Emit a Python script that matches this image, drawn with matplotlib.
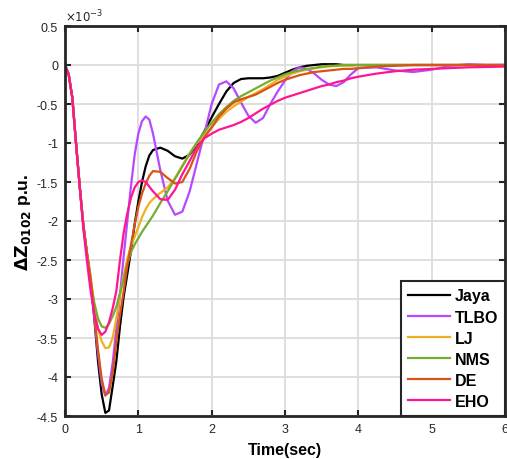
import numpy as np
import matplotlib.pyplot as plt

plt.rcParams['font.family'] = ['Liberation Sans', 'DejaVu Sans']
plt.rcParams['axes.unicode_minus'] = False

# time samples (s): fine steps during the dip, coarser afterwards
t = ([round(0.05 * i, 2) for i in range(25)]
     + [round(1.3 + 0.1 * i, 1) for i in range(28)]
     + [4.25, 4.5, 4.75, 5.0, 5.25, 5.5, 5.75, 6.0])

# deviation values, in units of 1e-3 p.u.
jaya = [0, -0.12, -0.42, -1.0, -1.55, -2.05, -2.42, -2.75, -3.25, -3.8, -4.22, -4.46, -4.43,
        -4.12, -3.8, -3.35, -2.97, -2.68, -2.38, -2.04, -1.75, -1.5, -1.3, -1.16, -1.09,
        -1.06, -1.1, -1.17, -1.2, -1.15, -1.02, -0.85, -0.67, -0.5, -0.34, -0.23, -0.18,
        -0.17, -0.17, -0.17, -0.16, -0.14, -0.1, -0.06, -0.03, -0.01, 0.0, 0.01, 0.01,
        0.01, 0.0, 0.0, 0.0,
        0, 0, 0, 0, 0, 0, 0, 0]
tlbo = [0, -0.12, -0.42, -1.0, -1.55, -2.05, -2.42, -2.75, -3.25, -3.7, -4.08, -4.24, -4.14,
        -3.82, -3.38, -2.95, -2.45, -2.0, -1.55, -1.15, -0.88, -0.72, -0.66, -0.7, -0.88,
        -1.35, -1.74, -1.92, -1.88, -1.62, -1.25, -0.88, -0.5, -0.25, -0.21, -0.3, -0.48,
        -0.65, -0.74, -0.68, -0.5, -0.34, -0.2, -0.08, -0.03, -0.05, -0.11, -0.19, -0.25,
        -0.27, -0.22, -0.12, -0.04,
        -0.03, -0.07, -0.09, -0.06, -0.01, 0.01, 0.0, 0.0]
lj = [0, -0.12, -0.42, -1.0, -1.55, -2.05, -2.42, -2.7, -3.1, -3.38, -3.54, -3.63, -3.62,
      -3.5, -3.25, -2.95, -2.7, -2.48, -2.32, -2.2, -2.08, -1.95, -1.85, -1.77, -1.72,
      -1.64, -1.57, -1.45, -1.29, -1.13, -1.0, -0.9, -0.8, -0.69, -0.6, -0.53, -0.47,
      -0.41, -0.36, -0.31, -0.25, -0.19, -0.15, -0.11, -0.08, -0.06, -0.04, -0.03, -0.02,
      -0.01, -0.01, -0.01, 0.0,
      0, 0, 0, 0, 0, 0, 0, 0]
nms = [0, -0.12, -0.42, -1.0, -1.55, -2.05, -2.42, -2.78, -3.05, -3.25, -3.35, -3.37, -3.32,
       -3.22, -3.1, -2.92, -2.75, -2.55, -2.4, -2.3, -2.22, -2.14, -2.07, -2.0, -1.93,
       -1.77, -1.62, -1.46, -1.3, -1.14, -0.99, -0.86, -0.74, -0.63, -0.54, -0.46, -0.4,
       -0.35, -0.3, -0.25, -0.2, -0.16, -0.12, -0.09, -0.07, -0.05, -0.04, -0.02, -0.01,
       -0.01, 0.0, 0.0, 0.0,
       0, 0, 0, 0, 0, 0, 0, 0]
de = [0, -0.12, -0.42, -1.0, -1.55, -2.05, -2.42, -2.75, -3.2, -3.65, -4.02, -4.23, -4.2,
      -3.95, -3.55, -3.2, -2.9, -2.57, -2.3, -2.05, -1.82, -1.65, -1.52, -1.42, -1.36,
      -1.37, -1.45, -1.52, -1.5, -1.33, -1.1, -0.93, -0.8, -0.66, -0.56, -0.48, -0.44,
      -0.41, -0.38, -0.33, -0.28, -0.23, -0.19, -0.16, -0.13, -0.11, -0.09, -0.08, -0.07,
      -0.06, -0.05, -0.05, -0.04,
      -0.02, -0.01, 0, 0, 0, 0, 0, 0]
eho = [0, -0.12, -0.42, -1.0, -1.55, -2.1, -2.52, -2.9, -3.2, -3.38, -3.46, -3.42, -3.3,
       -3.12, -2.9, -2.5, -2.15, -1.9, -1.7, -1.57, -1.5, -1.48, -1.5, -1.56, -1.62,
       -1.72, -1.73, -1.6, -1.4, -1.23, -1.05, -0.94, -0.88, -0.83, -0.8, -0.77, -0.73,
       -0.68, -0.62, -0.56, -0.51, -0.46, -0.42, -0.39, -0.36, -0.33, -0.3, -0.27, -0.25,
       -0.22, -0.2, -0.17, -0.15,
       -0.11, -0.08, -0.06, -0.05, -0.04, -0.03, -0.025, -0.02]

names = ['Jaya', 'TLBO', 'LJ', 'NMS', 'DE', 'EHO']
series = [jaya, tlbo, lj, nms, de, eho]
colors = ['#000000', '#b748ff', '#edb120', '#77ac30', '#d95319', '#ff1493']

fig = plt.figure(figsize=(5.07, 4.6), dpi=100)
ax = fig.add_axes([65 / 507, 1 - 417 / 460, 440 / 507, 390 / 460])

for y, c, n in zip(series, colors, names):
    ax.plot(t, y, color=c, lw=1.6, label=n, solid_joinstyle='round')

ax.set_xlim(0, 6)
ax.set_ylim(-4.5, 0.5)
ax.set_xticks(range(7))
ax.set_yticks(np.arange(-4.5, 0.51, 0.5))
ax.set_yticklabels(['-4.5', '-4', '-3.5', '-3', '-2.5', '-2', '-1.5', '-1', '-0.5', '0', '0.5'])
ax.grid(True, color='#dcdcdc', lw=1.3)
ax.set_axisbelow(True)
ax.tick_params(direction='in', length=4, width=1.5, top=True, right=True,
               labelsize=9, colors='#262626', pad=5)
for s in ax.spines.values():
    s.set_linewidth(2)
    s.set_color('#262626')

ax.text(0.0, 1.005, r'$\times10^{-3}$', transform=ax.transAxes, fontsize=8.5,
        color='#262626', va='bottom', ha='left')
ax.set_xlabel('Time(sec)', fontsize=11.5, fontweight='bold', labelpad=5)
ax.set_ylabel(r'$\mathbf{\Delta Z_{0102}}$ p.u.', fontsize=12.5, fontweight='bold', labelpad=3)

leg = ax.legend(loc='lower right', bbox_to_anchor=(1, 0), borderaxespad=0,
                fancybox=False, framealpha=1, edgecolor='#262626',
                prop={'weight': 'bold', 'size': 11.5}, handlelength=2.6,
                labelspacing=0.38, borderpad=0.45, handletextpad=0.3)
leg.get_frame().set_linewidth(1.5)

fig.savefig('out.png', dpi=100)
